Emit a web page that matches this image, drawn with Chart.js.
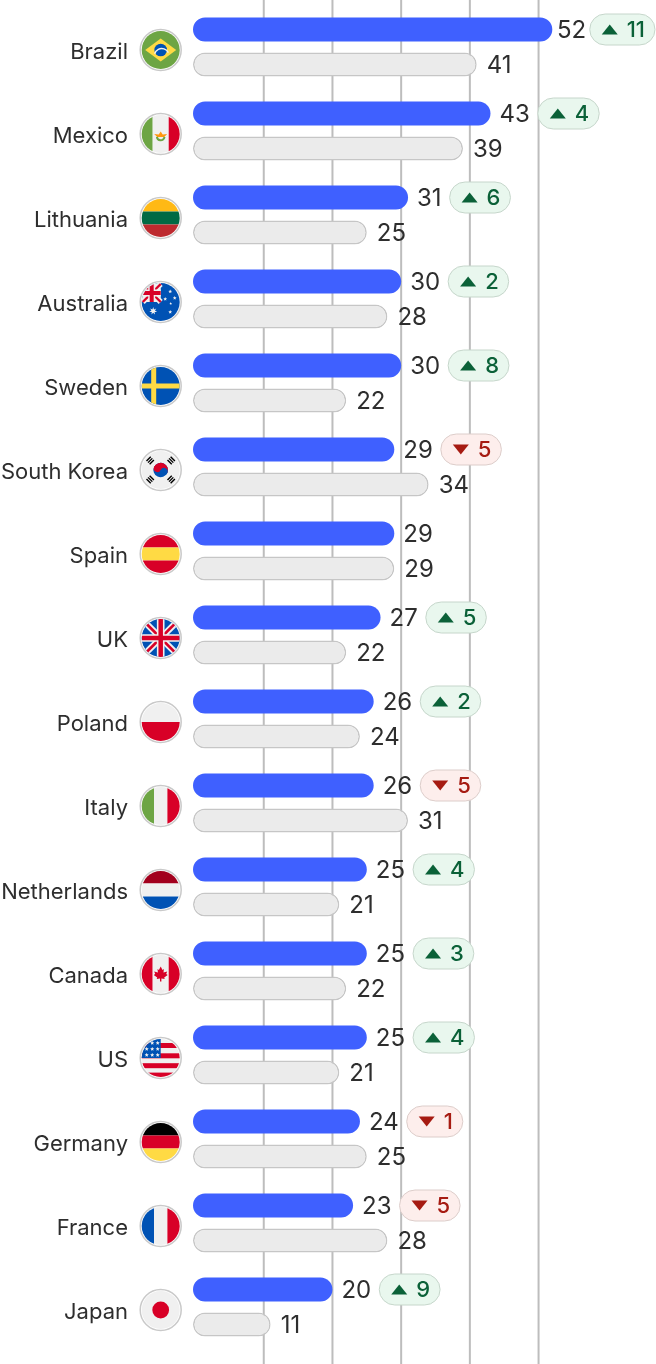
<!DOCTYPE html>
<html>
<head>
<meta charset="utf-8">
<title>Country ranking</title>
<script src="https://cdn.jsdelivr.net/npm/chart.js@4"></script>
<style>
  html, body { margin: 0; padding: 0; background: #fff; }
  #wrap { width: 656px; height: 1364px; }
</style>
</head>
<body>
<div id="wrap"><canvas id="chart" width="656" height="1364"></canvas></div>
<script>
const countries = ["Brazil", "Mexico", "Lithuania", "Australia", "Sweden", "South Korea", "Spain", "UK",
  "Poland", "Italy", "Netherlands", "Canada", "US", "Germany", "France", "Japan"];
const currentValues = [52, 43, 31, 30, 30, 29, 29, 27, 26, 26, 25, 25, 25, 24, 23, 20];
const previousValues = [41, 39, 25, 28, 22, 34, 29, 22, 24, 31, 21, 22, 21, 25, 28, 11];
const gridValues = [10, 20, 30, 40, 50];

const FONT = "Inter, 'Noto Sans', sans-serif";
const TEXT_COLOR = "#2e2e2e";
const BAR_BASE = -0.3;

// flag colours
const GREEN = "#6da544", YELLOW = "#ffda44", BLUE = "#0052b4", RED = "#d80027", WHITE = "#f0f0f0";

function band(c, color, x, y, w, h) {
  c.fillStyle = color;
  c.fillRect(x, y, w, h);
}
function disc(c, color, x, y, r) {
  c.fillStyle = color;
  c.beginPath();
  c.arc(x, y, r, 0, Math.PI * 2);
  c.fill();
}
function poly(c, color, pts) {
  c.fillStyle = color;
  c.beginPath();
  pts.forEach((p, i) => (i ? c.lineTo(p[0], p[1]) : c.moveTo(p[0], p[1])));
  c.closePath();
  c.fill();
}
function star(c, color, x, y, r, points = 5) {
  const pts = [];
  for (let i = 0; i < points * 2; i++) {
    const a = -Math.PI / 2 + (i * Math.PI) / points;
    const d = i % 2 ? r * 0.45 : r;
    pts.push([x + Math.cos(a) * d, y + Math.sin(a) * d]);
  }
  poly(c, color, pts);
}
function stroke(c, color, width, x1, y1, x2, y2) {
  c.strokeStyle = color;
  c.lineWidth = width;
  c.beginPath();
  c.moveTo(x1, y1);
  c.lineTo(x2, y2);
  c.stroke();
}
function horizontal(c, top, mid, bottom) {
  band(c, top, -20, -20, 40, 13.5);
  band(c, mid, -20, -6.5, 40, 13);
  band(c, bottom, -20, 6.5, 40, 13.5);
}
function vertical(c, left, mid, right, half = 6.7) {
  band(c, left, -20, -20, 20 - half, 40);
  band(c, mid, -half, -20, half * 2, 40);
  band(c, right, half, -20, 20 - half, 40);
}
function unionJack(c, x0, y0, x1, y1, bars) {
  const mx = (x0 + x1) / 2, my = (y0 + y1) / 2;
  stroke(c, WHITE, bars * 1.4, x0, y0, x1, y1);
  stroke(c, WHITE, bars * 1.4, x0, y1, x1, y0);
  stroke(c, RED, bars * 0.6, x0, y0, x1, y1);
  stroke(c, RED, bars * 0.6, x0, y1, x1, y0);
  stroke(c, WHITE, bars * 1.7, mx, y0, mx, y1);
  stroke(c, WHITE, bars * 1.7, x0, my, x1, my);
  stroke(c, RED, bars, mx, y0, mx, y1);
  stroke(c, RED, bars, x0, my, x1, my);
}

// each painter works around (0,0) inside a circle of radius 19
const flagPainters = {
  Brazil(c) {
    band(c, GREEN, -20, -20, 40, 40);
    poly(c, YELLOW, [[-15.5, 0], [0, -11.5], [15.5, 0], [0, 11.5]]);
    disc(c, BLUE, 0, 0, 6.3);
    c.strokeStyle = WHITE;
    c.lineWidth = 1.4;
    c.beginPath();
    c.arc(1, 6, 7.5, Math.PI * 1.1, Math.PI * 1.85);
    c.stroke();
  },
  Mexico(c) {
    vertical(c, GREEN, WHITE, RED, 8);
    poly(c, "#ff9811", [[-6.5, 0], [-2, 0.5], [0, -2.5], [2, 0.5], [6.5, 0], [3.5, 3], [-3.5, 3]]);
    c.strokeStyle = GREEN;
    c.lineWidth = 2;
    c.beginPath();
    c.arc(0, 2.5, 3.8, 0.1, Math.PI - 0.1);
    c.stroke();
  },
  Lithuania(c) {
    horizontal(c, "#ffb915", "#006a44", "#bd2a2f");
  },
  Australia(c) {
    band(c, BLUE, -20, -20, 40, 40);
    band(c, WHITE, -20, -20, 20, 20);
    unionJack(c, -18, -18, 0, 0, 4);
    star(c, WHITE, -7.5, 9, 4, 7);
    star(c, WHITE, 9.5, -10.5, 2);
    star(c, WHITE, 4.5, -3, 2);
    star(c, WHITE, 14, -4, 2);
    star(c, WHITE, 10, 1.5, 1.4);
    star(c, WHITE, 9.5, 10, 2);
  },
  Sweden(c) {
    band(c, BLUE, -20, -20, 40, 40);
    band(c, YELLOW, -9.5, -20, 5, 40);
    band(c, YELLOW, -20, -2.5, 40, 5);
  },
  "South Korea"(c) {
    band(c, WHITE, -20, -20, 40, 40);
    c.save();
    c.rotate(Math.PI * 0.14);
    disc(c, BLUE, 0, 0, 7.3);
    c.fillStyle = RED;
    c.beginPath();
    c.arc(0, 0, 7.3, Math.PI, 0);
    c.fill();
    disc(c, RED, -3.65, 0, 3.65);
    disc(c, BLUE, 3.65, 0, 3.65);
    c.restore();
    [[-1, -1], [1, -1], [-1, 1], [1, 1]].forEach(([sx, sy]) => {
      c.save();
      c.translate(sx * 10.5, sy * 9.5);
      c.rotate(Math.atan2(-sx, sy));
      [-2.2, 0, 2.2].forEach((off) => band(c, "#000000", -3, off - 0.7, 6, 1.4));
      c.restore();
    });
  },
  Spain(c) {
    horizontal(c, RED, YELLOW, RED);
  },
  UK(c) {
    band(c, BLUE, -20, -20, 40, 40);
    unionJack(c, -19, -19, 19, 19, 4.5);
  },
  Poland(c) {
    band(c, WHITE, -20, -20, 40, 20);
    band(c, RED, -20, 0, 40, 20);
  },
  Italy(c) {
    vertical(c, GREEN, WHITE, RED);
  },
  Netherlands(c) {
    horizontal(c, "#a2001d", WHITE, BLUE);
  },
  Canada(c) {
    vertical(c, RED, WHITE, RED, 8);
    poly(c, RED, [[0, -7.5], [1.8, -4], [3.2, -5], [2.8, -1.5], [6.5, -2.5], [5.5, 0], [7, 1], [3.5, 3.5],
      [4, 5], [0.7, 4.5], [0.7, 7.5], [-0.7, 7.5], [-0.7, 4.5], [-4, 5], [-3.5, 3.5], [-7, 1], [-5.5, 0],
      [-6.5, -2.5], [-2.8, -1.5], [-3.2, -5], [-1.8, -4]]);
  },
  US(c) {
    band(c, WHITE, -20, -20, 40, 40);
    [-15, -4.7, 5.2, 14.6].forEach((y) => band(c, RED, -20, y, 40, 5));
    band(c, BLUE, -20, -20, 20, 20);
    [[-3, -15], [-8.5, -15], [-3, -9], [-8.5, -9], [-14, -9], [-3, -3], [-8.5, -3], [-14, -3]]
      .forEach(([x, y]) => star(c, WHITE, x, y, 2.2));
  },
  Germany(c) {
    horizontal(c, "#000000", RED, YELLOW);
  },
  France(c) {
    vertical(c, BLUE, WHITE, RED);
  },
  Japan(c) {
    band(c, WHITE, -20, -20, 40, 40);
    disc(c, RED, 0, 0, 8.4);
  }
};

// vertical reference lines run the full canvas height, behind the bars
const fullHeightGrid = {
  id: "fullHeightGrid",
  beforeDatasetsDraw(chart) {
    const { ctx, scales, height } = chart;
    ctx.save();
    ctx.strokeStyle = "#bdbdbd";
    ctx.lineWidth = 2;
    scales.x.ticks.forEach((t) => {
      const x = scales.x.getPixelForValue(t.value);
      ctx.beginPath();
      ctx.moveTo(x, 0);
      ctx.lineTo(x, height);
      ctx.stroke();
    });
    ctx.restore();
  }
};

const flagColumn = {
  id: "flagColumn",
  afterDatasetsDraw(chart) {
    const { ctx, scales } = chart;
    countries.forEach((name, i) => {
      const y = scales.y.getPixelForValue(i) + 3;
      ctx.save();
      ctx.translate(160.7, y);
      ctx.fillStyle = "#ffffff";
      ctx.strokeStyle = "#c9c9c9";
      ctx.lineWidth = 1.5;
      ctx.beginPath();
      ctx.arc(0, 0, 20.5, 0, Math.PI * 2);
      ctx.fill();
      ctx.stroke();
      ctx.beginPath();
      ctx.arc(0, 0, 19, 0, Math.PI * 2);
      ctx.clip();
      flagPainters[name](ctx);
      ctx.restore();
    });
  }
};

function roundedPill(ctx, x, y, w, h) {
  ctx.beginPath();
  ctx.roundRect(x, y, w, h, h / 2);
}

// value labels next to each bar, plus the change badge on the current year
const barLabels = {
  id: "barLabels",
  afterDatasetsDraw(chart) {
    const { ctx, width } = chart;
    const current = chart.getDatasetMeta(0).data;
    const previous = chart.getDatasetMeta(1).data;
    ctx.save();
    ctx.textBaseline = "middle";
    countries.forEach((name, i) => {
      const delta = currentValues[i] - previousValues[i];
      const label = String(Math.abs(delta));
      ctx.font = "500 22px " + FONT;
      const badgeW = 47 + ctx.measureText(label).width;

      ctx.font = "400 24px " + FONT;
      ctx.fillStyle = TEXT_COLOR;
      ctx.textAlign = "left";
      const valueW = ctx.measureText(String(currentValues[i])).width;
      // tighten the gaps when the badge would run off the right edge
      const spare = width - 1 - (current[i].x + 17 + valueW + badgeW);
      const squeeze = delta !== 0 && spare < 0 ? -spare / 2 : 0;
      const curX = current[i].x + 9 - squeeze;
      ctx.fillText(String(currentValues[i]), curX, current[i].y + 1);
      ctx.fillText(String(previousValues[i]), previous[i].x + 10, previous[i].y + 1);

      if (delta === 0) return;
      const up = delta > 0;
      const badgeX = curX + valueW + 8 - squeeze;
      const badgeH = 31;
      const badgeY = current[i].y - badgeH / 2;
      ctx.fillStyle = up ? "#e9f7ee" : "#fdeeec";
      ctx.strokeStyle = up ? "#c6d6cb" : "#dccdca";
      ctx.lineWidth = 1;
      roundedPill(ctx, badgeX, badgeY, badgeW, badgeH);
      ctx.fill();
      ctx.stroke();

      const ink = up ? "#0b6138" : "#a61b12";
      const tx = badgeX + 12;
      const cy = current[i].y;
      ctx.fillStyle = ink;
      ctx.beginPath();
      if (up) {
        ctx.moveTo(tx, cy + 5);
        ctx.lineTo(tx + 16, cy + 5);
        ctx.lineTo(tx + 8, cy - 5);
      } else {
        ctx.moveTo(tx, cy - 5);
        ctx.lineTo(tx + 16, cy - 5);
        ctx.lineTo(tx + 8, cy + 5);
      }
      ctx.closePath();
      ctx.fill();
      ctx.font = "500 22px " + FONT;
      ctx.fillText(label, tx + 25, cy + 1);
    });
    ctx.restore();
  }
};

new Chart(document.getElementById("chart").getContext("2d"), {
  type: "bar",
  data: {
    labels: countries,
    datasets: [
      {
        data: currentValues,
        base: BAR_BASE,
        backgroundColor: "#3f60ff",
        borderWidth: 0,
        borderRadius: 12,
        borderSkipped: false
      },
      {
        data: previousValues,
        base: BAR_BASE,
        backgroundColor: "#ebebeb",
        borderColor: "#c6c6c6",
        borderWidth: 1.5,
        borderRadius: 12,
        borderSkipped: false
      }
    ]
  },
  options: {
    indexAxis: "y",
    responsive: false,
    animation: false,
    events: [],
    categoryPercentage: 0.8333,
    barPercentage: 0.686,
    layout: { padding: { top: 5, bottom: 15, left: 0, right: 0 } },
    plugins: { legend: { display: false }, tooltip: { enabled: false } },
    scales: {
      x: {
        type: "linear",
        position: "top",
        min: BAR_BASE,
        max: BAR_BASE + 463 / 6.87,
        display: false,
        afterBuildTicks(axis) {
          axis.ticks = gridValues.map((value) => ({ value }));
        }
      },
      y: {
        type: "category",
        grid: { display: false, drawTicks: false },
        border: { display: false },
        afterFit(axis) {
          // keep the category band tied to the layout padding only
          axis.width = 193;
          axis.paddingTop = 0;
          axis.paddingBottom = 0;
        },
        ticks: {
          autoSkip: false,
          padding: 65,
          labelOffset: 5,
          color: TEXT_COLOR,
          font: { family: FONT, size: 22, weight: "400" }
        }
      }
    }
  },
  plugins: [fullHeightGrid, flagColumn, barLabels]
});
</script>
</body>
</html>
